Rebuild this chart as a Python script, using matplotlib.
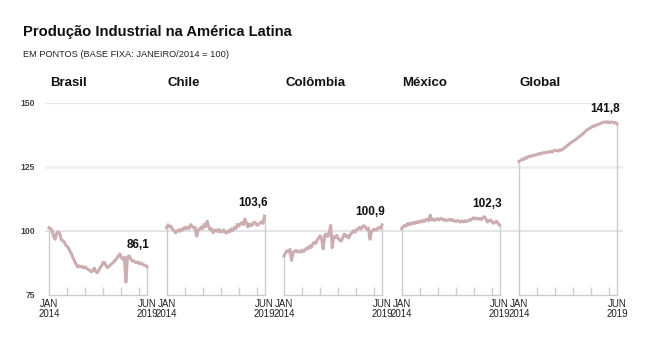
import matplotlib
matplotlib.use("Agg")
import matplotlib.pyplot as plt
from matplotlib import font_manager

names = {f.name for f in font_manager.fontManager.ttflist}
NARROW = 'Liberation Sans Narrow' if 'Liberation Sans Narrow' in names else 'Liberation Sans'
plt.rcParams['font.family'] = [NARROW, 'DejaVu Sans']

# ---------------- data ----------------
title = "Produção Industrial na América Latina"
subtitle = "EM PONTOS (BASE FIXA: JANEIRO/2014 = 100)"
countries = ["Brasil", "Chile", "Colômbia", "México", "Global"]
end_labels = ["86,1", "103,6", "100,9", "102,3", "141,8"]
x_labels = ["JAN\n2014", "JUN\n2019"]
y_ticks = [75, 100, 125, 150]

brasil = [101.3, 101.0, 100.2, 98.0, 96.8, 99.0, 99.6, 99.2, 96.8, 96.2,
          95.8, 94.6, 94.0, 93.2, 92.0, 91.0, 89.4, 88.2, 87.0, 86.0,
          86.4, 85.9, 86.2, 85.6, 86.0, 85.3, 85.0, 84.6, 84.0, 84.5,
          85.5, 84.2, 83.7, 84.6, 85.8, 86.5, 87.8, 87.6, 86.2, 85.7,
          86.3, 86.9, 87.4, 88.0, 88.6, 89.3, 90.2, 91.0, 89.6, 89.0,
          89.8, 80.0, 89.6, 90.3, 89.4, 88.3, 88.4, 87.9, 87.6, 87.9,
          87.2, 87.5, 87.0, 86.7, 86.5, 86.1]
chile = [101.3, 102.4, 101.6, 101.9, 100.6, 100.2, 99.3, 99.8, 100.5, 99.9,
         100.8, 100.4, 101.5, 100.9, 101.4, 101.0, 102.5, 101.8, 101.2, 101.4,
         98.0, 100.3, 100.8, 101.5, 100.9, 102.6, 101.8, 103.8, 101.6, 100.5,
         100.9, 99.3, 100.1, 100.4, 99.8, 100.6, 99.6, 99.8, 100.4, 99.5,
         99.2, 100.1, 99.7, 100.8, 100.2, 101.4, 100.9, 102.6, 101.9, 102.8,
         103.3, 102.5, 104.7, 103.2, 101.6, 102.8, 102.1, 102.5, 103.4, 103.2,
         102.2, 102.5, 103.1, 103.6, 103.0, 105.8]
colombia = [90.2, 91.5, 92.3, 91.8, 92.8, 88.5, 91.6, 92.0, 92.4, 91.8,
            92.1, 91.7, 92.5, 92.0, 92.6, 93.4, 93.0, 94.1, 93.6, 94.9,
            95.6, 95.1, 96.5, 97.2, 98.1, 96.8, 93.0, 98.4, 98.8, 97.9,
            99.6, 102.2, 93.5, 97.8, 97.4, 98.3, 97.0, 96.4, 96.1, 97.5,
            98.8, 97.9, 98.2, 97.3, 98.6, 99.3, 100.1, 99.5, 100.4, 100.8,
            101.4, 100.7, 101.6, 102.1, 101.5, 100.6, 101.2, 96.8, 99.7, 100.4,
            100.7, 100.3, 101.0, 101.4, 101.0, 102.4]
mexico = [101.0, 101.6, 102.2, 101.9, 102.9, 102.4, 103.1, 102.7, 103.4, 103.0,
          103.6, 103.2, 103.9, 103.5, 104.1, 103.7, 104.4, 104.6, 104.0, 106.2,
          104.3, 104.6, 104.1, 104.5, 104.8, 104.3, 105.0, 104.6, 104.2, 104.5,
          104.0, 104.3, 104.6, 104.1, 104.4, 104.0, 103.7, 104.1, 103.8, 103.5,
          103.9, 103.6, 104.0, 103.7, 104.0, 104.4, 104.2, 104.8, 105.2, 104.7,
          105.0, 104.6, 104.9, 104.5, 105.1, 105.6, 104.6, 103.5, 104.0, 104.3,
          103.6, 103.0, 103.4, 103.8, 103.1, 102.3]
globo = [127.2, 127.6, 128.0, 127.9, 128.6, 128.4, 129.0, 129.3, 129.1, 129.5,
         129.7, 129.6, 129.9, 130.2, 130.0, 130.4, 130.6, 130.5, 130.8, 130.7,
         130.9, 131.1, 130.8, 131.3, 131.6, 131.4, 131.2, 131.7, 131.6, 131.9,
         132.4, 132.9, 133.3, 133.8, 134.3, 134.7, 135.1, 135.5, 135.9, 136.4,
         136.9, 137.3, 137.8, 138.3, 138.9, 139.5, 139.8, 140.2, 140.5, 141.0,
         140.9, 141.3, 141.5, 141.7, 142.0, 142.3, 142.5, 142.6, 142.4, 142.7,
         142.3, 142.5, 142.6, 142.2, 142.4, 141.8]
series = [brasil, chile, colombia, mexico, globo]
months = list(range(len(brasil)))  # Jan 2014 .. Jun 2019
year_ticks = [12, 24, 36, 48, 60]

# ---------------- style ----------------
LINE = '#cdaeb0'
AXIS = '#cdcdcd'
W, H = 650, 350
fig = plt.figure(figsize=(W / 100, H / 100), dpi=100)
fig.patch.set_facecolor('white')

y_bottom_px, y_top_px = 295, 103
bottom = (H - y_bottom_px) / H
height = (y_bottom_px - y_top_px) / H

# background axes with gridlines spanning all panels
bg = fig.add_axes([45 / W, bottom, 578 / W, height])
bg.set_xlim(0, 1)
bg.set_ylim(75, 150)
for v, lw, c in [(150, 0.9, '#e6e6e6'), (125, 1.8, '#ededed'), (100, 1.3, '#e2e2e2')]:
    bg.axhline(v, color=c, lw=lw, zorder=0)
bg.set_yticks(y_ticks)
bg.set_yticklabels([str(t) for t in y_ticks], fontsize=6.2, color='#444444',
                   fontweight='bold', family=['Liberation Sans', 'DejaVu Sans'])
bg.tick_params(axis='y', length=0, pad=7)
bg.set_xticks([])
for s in bg.spines.values():
    s.set_visible(False)
bg.patch.set_visible(False)

fig.text(23 / W, 1 - 36 / H, title, fontsize=10.6, fontweight='bold',
         color='#111111', va='baseline', family=['Liberation Sans', 'DejaVu Sans'])
fig.text(23 / W, 1 - 57 / H, subtitle, fontsize=6.7, color='#222222',
         va='baseline')

panel_w = 98
for i, (name, vals, lab) in enumerate(zip(countries, series, end_labels)):
    left_px = 49 + i * 117.5
    ax = fig.add_axes([left_px / W, bottom, panel_w / W, height])
    ax.patch.set_visible(False)
    ax.set_xlim(0, months[-1])
    ax.set_ylim(75, 150)
    for k in ['left', 'right', 'top']:
        ax.spines[k].set_visible(False)
    ax.spines['bottom'].set_color(AXIS)
    ax.spines['bottom'].set_linewidth(1.0)
    ax.vlines(months[0], 75, vals[0], color=AXIS, lw=1.0, zorder=1, clip_on=False)
    ax.vlines(months[-1], 75, vals[-1], color=AXIS, lw=1.0, zorder=1, clip_on=False)
    ax.plot(months, vals, color=LINE, lw=2.2, zorder=3, clip_on=False,
            solid_joinstyle='round')
    ax.set_yticks([])
    ax.set_xticks([months[0], months[-1]])
    ax.set_xticklabels(x_labels, fontsize=7, color='#222222', linespacing=0.95)
    ax.tick_params(axis='x', which='major', length=0, pad=3)
    ax.set_xticks(year_ticks, minor=True)
    ax.tick_params(axis='x', which='minor', direction='in', length=6,
                   width=1.0, color=AXIS)
    top_recent = max(vals[-12:])
    ax.annotate(lab, xy=(months[-1], top_recent), xytext=(2, 5),
                textcoords='offset points', ha='right', va='bottom',
                fontsize=8.5, fontweight='bold', color='#111111',
                family=['Liberation Sans', 'DejaVu Sans'], annotation_clip=False)
    fig.text((left_px + 1) / W, 1 - 86 / H, name, fontsize=9.5, fontweight='bold',
             color='#111111', va='baseline', family=['Liberation Sans', 'DejaVu Sans'])

fig.savefig('out.png', dpi=100, facecolor='white')
